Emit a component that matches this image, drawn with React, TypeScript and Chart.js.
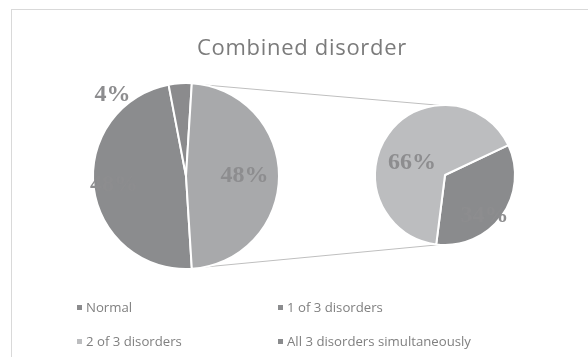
import React, { useEffect, useRef } from 'react';
import { Chart, registerables } from 'chart.js';

Chart.register(...registerables);

const chartTitle = 'Combined disorder';

// Legend entries, in display order
const categories = ['Normal', '1 of 3 disorders', '2 of 3 disorders', 'All 3 disorders simultaneously'];

// Main pie (percent): the two multi-disorder groups are pooled into "Other"
const mainLabels = ['1 of 3 disorders', 'Normal', 'Other'];
const mainValues = [48, 4, 48];

// Secondary pie (percent of the pooled slice)
const splitLabels = ['All 3 disorders simultaneously', '2 of 3 disorders'];
const splitValues = [34, 66];

const sliceColors: Record<string, string> = {
  'Normal': '#8b8b8d',
  '1 of 3 disorders': '#8b8c8e',
  '2 of 3 disorders': '#bcbdbf',
  'All 3 disorders simultaneously': '#8a8b8d',
  'Other': '#a8a9ab',
};

// Where each value label sits: fraction of the radius, optional fixed angle (deg, clockwise from 3 o'clock)
const mainLabelPlacement = [
  { r: 0.78 },
  { r: 1.18, angle: 228 },
  { r: 0.63 },
];
const splitLabelPlacement = [
  { r: 0.81, angle: 46 },
  { r: 0.5, angle: 200 },
];

const CANVAS_W = 576;
const CANVAS_H = 347;
const LABEL_FONT = 'bold 24px "Liberation Serif", "Times New Roman", serif';
const LABEL_COLOR = '#8d8d8f';

type Placement = { r: number; angle?: number };

function valueLabels(values: number[], placement: Placement[]) {
  return {
    id: 'valueLabels',
    afterDatasetsDraw(chart: any) {
      const ctx = chart.ctx;
      const meta = chart.getDatasetMeta(0);
      ctx.save();
      ctx.font = LABEL_FONT;
      ctx.fillStyle = LABEL_COLOR;
      ctx.textAlign = 'center';
      ctx.textBaseline = 'middle';
      meta.data.forEach((arc: any, i: number) => {
        const p = placement[i];
        const mid = (arc.startAngle + arc.endAngle) / 2;
        const a = p.angle !== undefined ? (p.angle * Math.PI) / 180 : mid;
        const rr = arc.outerRadius * p.r;
        ctx.fillText(`${values[i]}%`, arc.x + Math.cos(a) * rr, arc.y + Math.sin(a) * rr);
      });
      ctx.restore();
    },
  };
}

// rotation that centres the pooled slice on the 3 o'clock direction
function mainRotation() {
  const total = mainValues.reduce((s, v) => s + v, 0);
  const idx = mainLabels.indexOf('Other');
  const before = mainValues.slice(0, idx).reduce((s, v) => s + v, 0);
  const centre = ((before + mainValues[idx] / 2) / total) * 360;
  return 90 - centre;
}

// secondary pie: first slice centred at this angle (deg, clockwise from 3 o'clock)
const SPLIT_FIRST_CENTRE = 36;
function splitRotation() {
  const total = splitValues.reduce((s, v) => s + v, 0);
  return 90 + SPLIT_FIRST_CENTRE - ((splitValues[0] / total) * 360) / 2;
}

// connector attachment angles (deg) on each pie
const CONNECT_MAIN = 78;
const CONNECT_SPLIT = 95;

export default function App() {
  const mainRef = useRef<HTMLCanvasElement>(null);
  const splitRef = useRef<HTMLCanvasElement>(null);

  useEffect(() => {
    if (!mainRef.current || !splitRef.current) return;
    let alive = true;

    const main = new Chart(mainRef.current, {
      type: 'pie',
      data: {
        labels: mainLabels,
        datasets: [
          {
            data: mainValues,
            backgroundColor: mainLabels.map((l) => sliceColors[l]),
            borderColor: '#ffffff',
            borderWidth: 2,
          },
        ],
      },
      options: {
        responsive: false,
        animation: false,
        rotation: mainRotation(),
        layout: { padding: { left: 80, top: 72, right: 308, bottom: 87 } },
        plugins: { legend: { display: false }, tooltip: { enabled: false }, title: { display: false } },
      },
      plugins: [valueLabels(mainValues, mainLabelPlacement)],
    });

    const connectors = {
      id: 'connectors',
      beforeDatasetsDraw(chart: any) {
        const a = main.getDatasetMeta(0).data[0] as any;
        const b = chart.getDatasetMeta(0).data[0] as any;
        if (!a || !b) return;
        const ctx = chart.ctx;
        ctx.save();
        ctx.strokeStyle = '#bfbfbf';
        ctx.lineWidth = 1;
        [-1, 1].forEach((s) => {
          const am = (s * CONNECT_MAIN * Math.PI) / 180;
          const as = (s * CONNECT_SPLIT * Math.PI) / 180;
          ctx.beginPath();
          ctx.moveTo(a.x + Math.cos(am) * a.outerRadius, a.y + Math.sin(am) * a.outerRadius);
          ctx.lineTo(b.x + Math.cos(as) * b.outerRadius, b.y + Math.sin(as) * b.outerRadius);
          ctx.stroke();
        });
        ctx.restore();
      },
    };

    const split = new Chart(splitRef.current, {
      type: 'pie',
      data: {
        labels: splitLabels,
        datasets: [
          {
            data: splitValues,
            backgroundColor: splitLabels.map((l) => sliceColors[l]),
            borderColor: '#ffffff',
            borderWidth: 2,
          },
        ],
      },
      options: {
        responsive: false,
        animation: false,
        rotation: splitRotation(),
        layout: { padding: { left: 362, top: 94, right: 72, bottom: 111 } },
        plugins: { legend: { display: false }, tooltip: { enabled: false }, title: { display: false } },
      },
      plugins: [connectors, valueLabels(splitValues, splitLabelPlacement)],
    });

    // redraw once the label face is ready for canvas text
    document.fonts.load(LABEL_FONT).then(() => {
      if (!alive) return;
      main.draw();
      split.draw();
    });

    return () => {
      alive = false;
      split.destroy();
      main.destroy();
    };
  }, []);

  const canvasStyle: React.CSSProperties = { position: 'absolute', left: 0, top: 0 };
  const uiFont = '"Open Sans", "Noto Sans", sans-serif';

  return (
    <div style={{ position: 'fixed', inset: 0, overflow: 'hidden', background: '#ffffff' }}>
      <div
        style={{
          position: 'absolute',
          left: 11,
          top: 9,
          width: 640,
          height: 420,
          border: '1px solid #d9d9d9',
          boxSizing: 'border-box',
        }}
      >
        <canvas ref={splitRef} width={CANVAS_W} height={CANVAS_H} style={{ ...canvasStyle, zIndex: 0 }} />
        <canvas ref={mainRef} width={CANVAS_W} height={CANVAS_H} style={{ ...canvasStyle, zIndex: 1 }} />
        <div
          style={{
            position: 'absolute',
            left: 0,
            top: 22,
            width: 580,
            textAlign: 'center',
            fontFamily: uiFont,
            fontSize: 22,
            letterSpacing: 0.7,
            lineHeight: '28px',
            color: '#7b7b7b',
            zIndex: 2,
          }}
        >
          {chartTitle}
        </div>
        <div
          style={{
            position: 'absolute',
            left: 65,
            top: 280,
            display: 'grid',
            gridTemplateColumns: '201px 240px',
            gridAutoRows: '34px',
            fontFamily: uiFont,
            fontSize: 13.2,
            color: '#808080',
            zIndex: 2,
          }}
        >
          {categories.map((c) => (
            <div key={c} style={{ display: 'flex', alignItems: 'center', whiteSpace: 'nowrap' }}>
              <span
                style={{
                  display: 'inline-block',
                  width: 5,
                  height: 5,
                  background: sliceColors[c],
                  marginRight: 4,
                }}
              />
              {c}
            </div>
          ))}
        </div>
      </div>
    </div>
  );
}
